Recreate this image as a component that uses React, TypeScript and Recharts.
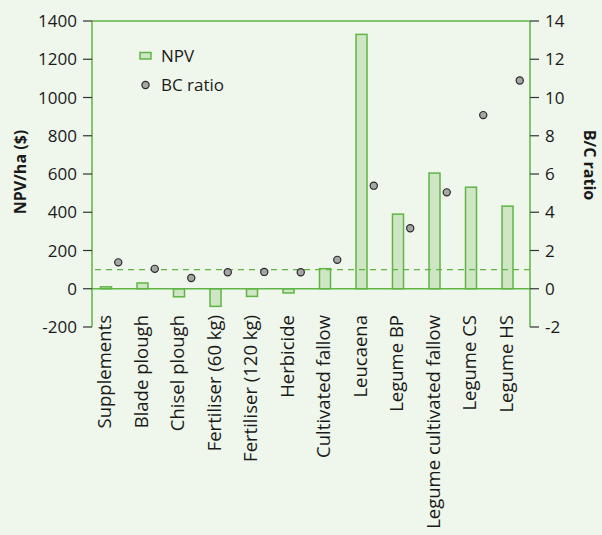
import React from 'react';
import { ComposedChart, Bar, Scatter, XAxis, YAxis, ReferenceLine, Legend, Label } from 'recharts';

const categories = [
  'Supplements', 'Blade plough', 'Chisel plough', 'Fertiliser (60 kg)', 'Fertiliser (120 kg)',
  'Herbicide', 'Cultivated fallow', 'Leucaena', 'Legume BP', 'Legume cultivated fallow',
  'Legume CS', 'Legume HS',
];
const npv = [10, 30, -42, -92, -40, -22, 105, 1330, 390, 605, 531, 432];
const bcRatio = [1.38, 1.04, 0.56, 0.86, 0.88, 0.86, 1.51, 5.39, 3.16, 5.04, 9.08, 10.89];
const leftTicks = [-200, 0, 200, 400, 600, 800, 1000, 1200, 1400];
const rightTicks = [-2, 0, 2, 4, 6, 8, 10, 12, 14];

const data = categories.map((name, i) => ({ name, npv: npv[i], bc: bcRatio[i] }));

const GREEN = '#5fb546';
const FILL = '#cfe6c4';
const BG = '#eff6eb';
const TEXT = '#1a1a1a';
const FONT = '"Open Sans", sans-serif';

const BarShape = (p: any) => {
  const h = p.height ?? 0;
  const y = h < 0 ? p.y + h : p.y;
  return (
    <rect x={p.x - 4.5} y={y} width={p.width} height={Math.abs(h)} fill={FILL} stroke={GREEN} strokeWidth={1.5} />
  );
};

const DotShape = (p: any) => (
  <circle cx={p.cx + 8} cy={p.cy} r={3.6} fill="#a6a6a6" stroke="#2a2a2a" strokeWidth={1.2} />
);

const XTick = (p: any) => {
  const { x, payload } = p;
  const y = p.y - 12;
  return (
    <text x={x} y={y} dy={1} transform={`rotate(-90 ${x} ${y})`} textAnchor="end" fill={TEXT}
      fontSize={18.5} fontFamily={FONT}>
      {payload.value}
    </text>
  );
};

const LegendContent = () => (
  <div style={{ fontFamily: FONT, fontSize: 17, color: TEXT, lineHeight: '29px' }}>
    <div style={{ display: 'flex', alignItems: 'center' }}>
      <svg width={22} height={12}><rect x={1} y={2.5} width={11} height={6.5} fill={FILL} stroke={GREEN} strokeWidth={1.5} /></svg>
      <span>NPV</span>
    </div>
    <div style={{ display: 'flex', alignItems: 'center' }}>
      <svg width={22} height={12}><circle cx={6.5} cy={6} r={3.6} fill="#a6a6a6" stroke="#2a2a2a" strokeWidth={1.2} /></svg>
      <span>BC ratio</span>
    </div>
  </div>
);

const LeftLabel = (p: any) => {
  const vb = p.viewBox || {};
  const cx = 20;
  const cy = vb.y + vb.height / 2 - 2;
  return (
    <text x={cx} y={cy} transform={`rotate(-90 ${cx} ${cy})`} textAnchor="middle" dominantBaseline="central"
      fontWeight="bold" fontSize={16} fontFamily={FONT} fill={TEXT}>NPV/ha ($)</text>
  );
};

const RightLabel = (p: any) => {
  const vb = p.viewBox || {};
  const cx = 590;
  const cy = vb.y + vb.height / 2 - 9;
  return (
    <text x={cx} y={cy} transform={`rotate(90 ${cx} ${cy})`} textAnchor="middle" dominantBaseline="central"
      fontWeight="bold" fontSize={16} fontFamily={FONT} fill={TEXT}>B/C ratio</text>
  );
};

export default function App() {
  return (
    <div style={{ position: 'absolute', left: 0, top: 0, width: 602, height: 535, background: BG }}>
      <ComposedChart width={602} height={535} data={data} margin={{ top: 21, right: 0, bottom: 0, left: 0 }}
        style={{ fontFamily: FONT }}>
        <XAxis dataKey="name" xAxisId={0} axisLine={false} tickLine={false} tickSize={0} tickMargin={0}
          height={208} interval={0} tick={<XTick />} />
        <YAxis yAxisId="left" orientation="left" width={92} domain={[-200, 1400]} ticks={leftTicks}
          allowDataOverflow axisLine={{ stroke: GREEN, strokeWidth: 1.5 }} tickLine={{ stroke: '#333', strokeWidth: 1.2 }}
          tickSize={9} tickMargin={6} tick={{ fill: TEXT, fontSize: 17, fontFamily: FONT }}>
          <Label content={<LeftLabel />} />
        </YAxis>
        <YAxis yAxisId="right" orientation="right" width={72} domain={[-2, 14]} ticks={rightTicks}
          allowDataOverflow axisLine={{ stroke: GREEN, strokeWidth: 1.5 }} tickLine={{ stroke: '#333', strokeWidth: 1.2 }}
          tickSize={9} tickMargin={6} tick={{ fill: TEXT, fontSize: 17, fontFamily: FONT }}>
          <Label content={<RightLabel />} />
        </YAxis>
        <ReferenceLine yAxisId="left" y={1400} stroke={GREEN} strokeWidth={1.5} />
        <ReferenceLine yAxisId="right" y={1} stroke={GREEN} strokeWidth={1.3} strokeDasharray="6 5" />
        <Bar yAxisId="left" dataKey="npv" name="NPV" barSize={11} shape={<BarShape />} isAnimationActive={false} />
        <ReferenceLine yAxisId="left" y={0} stroke={GREEN} strokeWidth={1.5} />
        <Scatter yAxisId="right" dataKey="bc" name="BC ratio" shape={<DotShape />} isAnimationActive={false} />
        <Legend layout="vertical" align="center" verticalAlign="middle" content={<LegendContent />}
          wrapperStyle={{ position: 'absolute', left: 139, top: 41, width: 150, height: 60 }} />
      </ComposedChart>
    </div>
  );
}
